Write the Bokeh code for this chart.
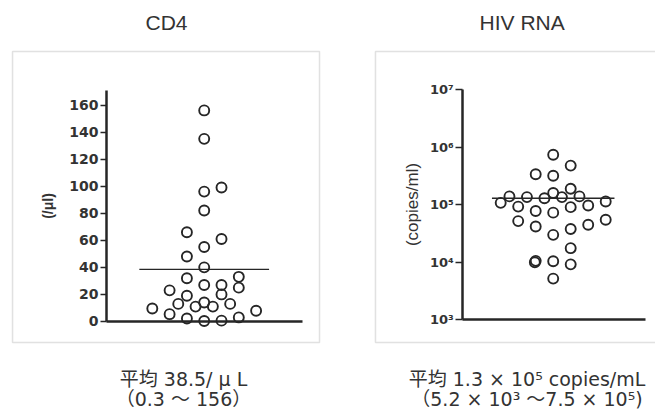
from bokeh.plotting import figure
from bokeh.models import (Range1d, FixedTicker, CustomJSTickFormatter, Label, BoxAnnotation)
from bokeh.layouts import row
from bokeh.embed import file_html
from bokeh.resources import INLINE

# ---------------- data ----------------
cd4_title = "CD4"
cd4_values = [156, 135, 96, 99, 82, 66, 61, 55, 48, 40, 32, 33, 27, 27, 25,
              23, 19, 20, 13, 14, 13, 11, 11, 9.6, 7.9, 5.4, 2.2, 3, 0.3, 0.6]
cd4_slots = [0, 0, 0, 2, 0, -2, 2, 0, -2, 0, -2, 4, 0, 2, 4,
             -4, -2, 2, -3, 0, 3, -1, 1, -6, 6, -4, -2, 4, 0, 2]
cd4_mean = 38.5
cd4_ticks = [0, 20, 40, 60, 80, 100, 120, 140, 160]
cd4_ylabel = "(/μl)"
cd4_caption = ["平均 38.5/ μ L", "（0.3 〜 156）"]

hiv_title = "HIV RNA"
hiv_values = [7.4e5, 4.8e5, 3.4e5, 3.2e5, 1.9e5, 1.6e5, 1.4e5, 1.36e5, 1.3e5,
              1.36e5, 1.4e5, 1.08e5, 1.14e5, 9.3e4, 9.1e4, 9.7e4, 7.8e4, 7.3e4,
              5.2e4, 5.5e4, 4.2e4, 4.5e4, 3.8e4, 3.0e4, 1.76e4, 1.06e4, 1.0e4,
              1.04e4, 9.2e3, 5.2e3]
hiv_slots = [0, 2, -2, 0, 2, 0, -5, -3, -1, 1, 3, -6, 6, -4, 2, 4, -2, 0,
             -4, 6, -2, 4, 2, 0, 2, -2, -2.1, 0, 2, 0]
hiv_mean = 1.3e5
hiv_ticks = [1e3, 1e4, 1e5, 1e6, 1e7]
hiv_ylabel = "(copies/ml)"
hiv_caption = ["平均 1.3 × 10⁵ copies/mL", "（5.2 × 10³ 〜7.5 × 10⁵)"]

TEXT = "#333333"
INK = "#262626"
BOX = "#9c9c9c"
SANS = "Liberation Sans"
TICKF = "DejaVu Sans"
CAPF = "DejaVu Sans, Noto Sans CJK JP"
H = 410


def base_figure(width, **kw):
    p = figure(width=width, height=H, output_backend="svg", toolbar_location=None,
               min_border=0, **kw)
    p.outline_line_color = None
    p.grid.visible = False
    p.background_fill_color = "white"
    p.border_fill_color = "white"
    return p


def add_texts(p, title, title_x, caption, cap_x):
    p.add_layout(Label(x=title_x, y=H - 22, x_units="screen", y_units="screen",
                       text=title, text_align="center", text_baseline="middle",
                       text_font=SANS, text_font_size="21px", text_color=TEXT))
    for i, line in enumerate(caption):
        p.add_layout(Label(x=cap_x, y=H - 378 - 20 * i, x_units="screen", y_units="screen",
                           text=line, text_align="center", text_baseline="middle",
                           text_font=CAPF, text_font_size="19px", text_color=TEXT))


def style_yaxis(a, label, label_size, label_style, tick_size, standoff, tick_out):
    a.axis_label = label
    a.axis_label_text_font = SANS
    a.axis_label_text_font_style = label_style
    a.axis_label_text_font_size = label_size
    a.axis_label_text_color = TEXT
    a.axis_label_standoff = standoff
    a.major_label_text_font = TICKF
    a.major_label_text_font_style = "bold"
    a.major_label_text_font_size = tick_size
    a.major_label_text_color = TEXT
    a.major_label_standoff = 2
    a.major_tick_out = tick_out
    a.major_tick_in = 0
    a.major_tick_line_width = 1.5
    a.major_tick_line_color = INK
    a.minor_tick_line_color = None
    a.axis_line_width = 2.5
    a.axis_line_color = INK


def style_xaxis(a):
    a.ticker = FixedTicker(ticks=[])
    a.major_tick_line_color = None
    a.minor_tick_line_color = None
    a.major_label_text_color = None
    a.axis_line_width = 2.5
    a.axis_line_color = INK


# ---------------- CD4 panel ----------------
p1 = base_figure(330, x_range=Range1d(-23.55, 14.6), y_range=Range1d(-65.8, 237.25))
p1.add_layout(BoxAnnotation(left=-22.16, right=13.33, bottom=-15.5, top=199.6,
                            fill_color=None, line_color=BOX, line_width=1.5))
p1.segment(x0=[-7.5], x1=[7.5], y0=[cd4_mean], y1=[cd4_mean],
           line_color=INK, line_width=1.3)
p1.scatter(x=cd4_slots, y=cd4_values, marker="circle", size=10,
           fill_alpha=0, line_color=INK, line_width=1.9)

ya = p1.yaxis[0]
ya.fixed_location = -11.29
ya.bounds = (0, 170.5)
ya.ticker = FixedTicker(ticks=cd4_ticks)
style_yaxis(ya, cd4_ylabel, "14px", "bold", "14px", 10, 6)

xa = p1.xaxis[0]
xa.fixed_location = 0
xa.bounds = (-11.29, 11.36)
style_xaxis(xa)

add_texts(p1, cd4_title, 166, cd4_caption, 183)

# ---------------- HIV RNA panel ----------------
p2 = base_figure(325, y_axis_type="log",
                 x_range=Range1d(-25.45, 11.69), y_range=Range1d(26.46, 3.57e8))
p2.add_layout(BoxAnnotation(left=-20.31, right=11.92, bottom=403, top=4.64e7,
                            fill_color=None, line_color=BOX, line_width=1.5))
p2.segment(x0=[-7], x1=[7], y0=[hiv_mean], y1=[hiv_mean],
           line_color=INK, line_width=1.3)
p2.scatter(x=hiv_slots, y=hiv_values, marker="circle", size=10,
           fill_alpha=0, line_color=INK, line_width=1.9)

yb = p2.yaxis[0]
yb.fixed_location = -10.33
yb.bounds = (1e3, 1e7)
yb.ticker = FixedTicker(ticks=hiv_ticks)
yb.formatter = CustomJSTickFormatter(code="""
    const sup = {"0":"⁰","1":"¹","2":"²","3":"³","4":"⁴","5":"⁵","6":"⁶","7":"⁷","8":"⁸","9":"⁹","-":"⁻"};
    const e = String(Math.round(Math.log10(tick)));
    return "10" + e.split("").map(c => sup[c]).join("");
""")
style_yaxis(yb, hiv_ylabel, "17px", "normal", "13px", 5, 7)

xb = p2.xaxis[0]
xb.fixed_location = 1e3
xb.bounds = (-10.33, 10.55)
style_xaxis(xb)

add_texts(p2, hiv_title, 191.7, hiv_caption, 196.5)

layout = row(p1, p2, spacing=0)
open("out.html", "w").write(file_html(layout, INLINE))
